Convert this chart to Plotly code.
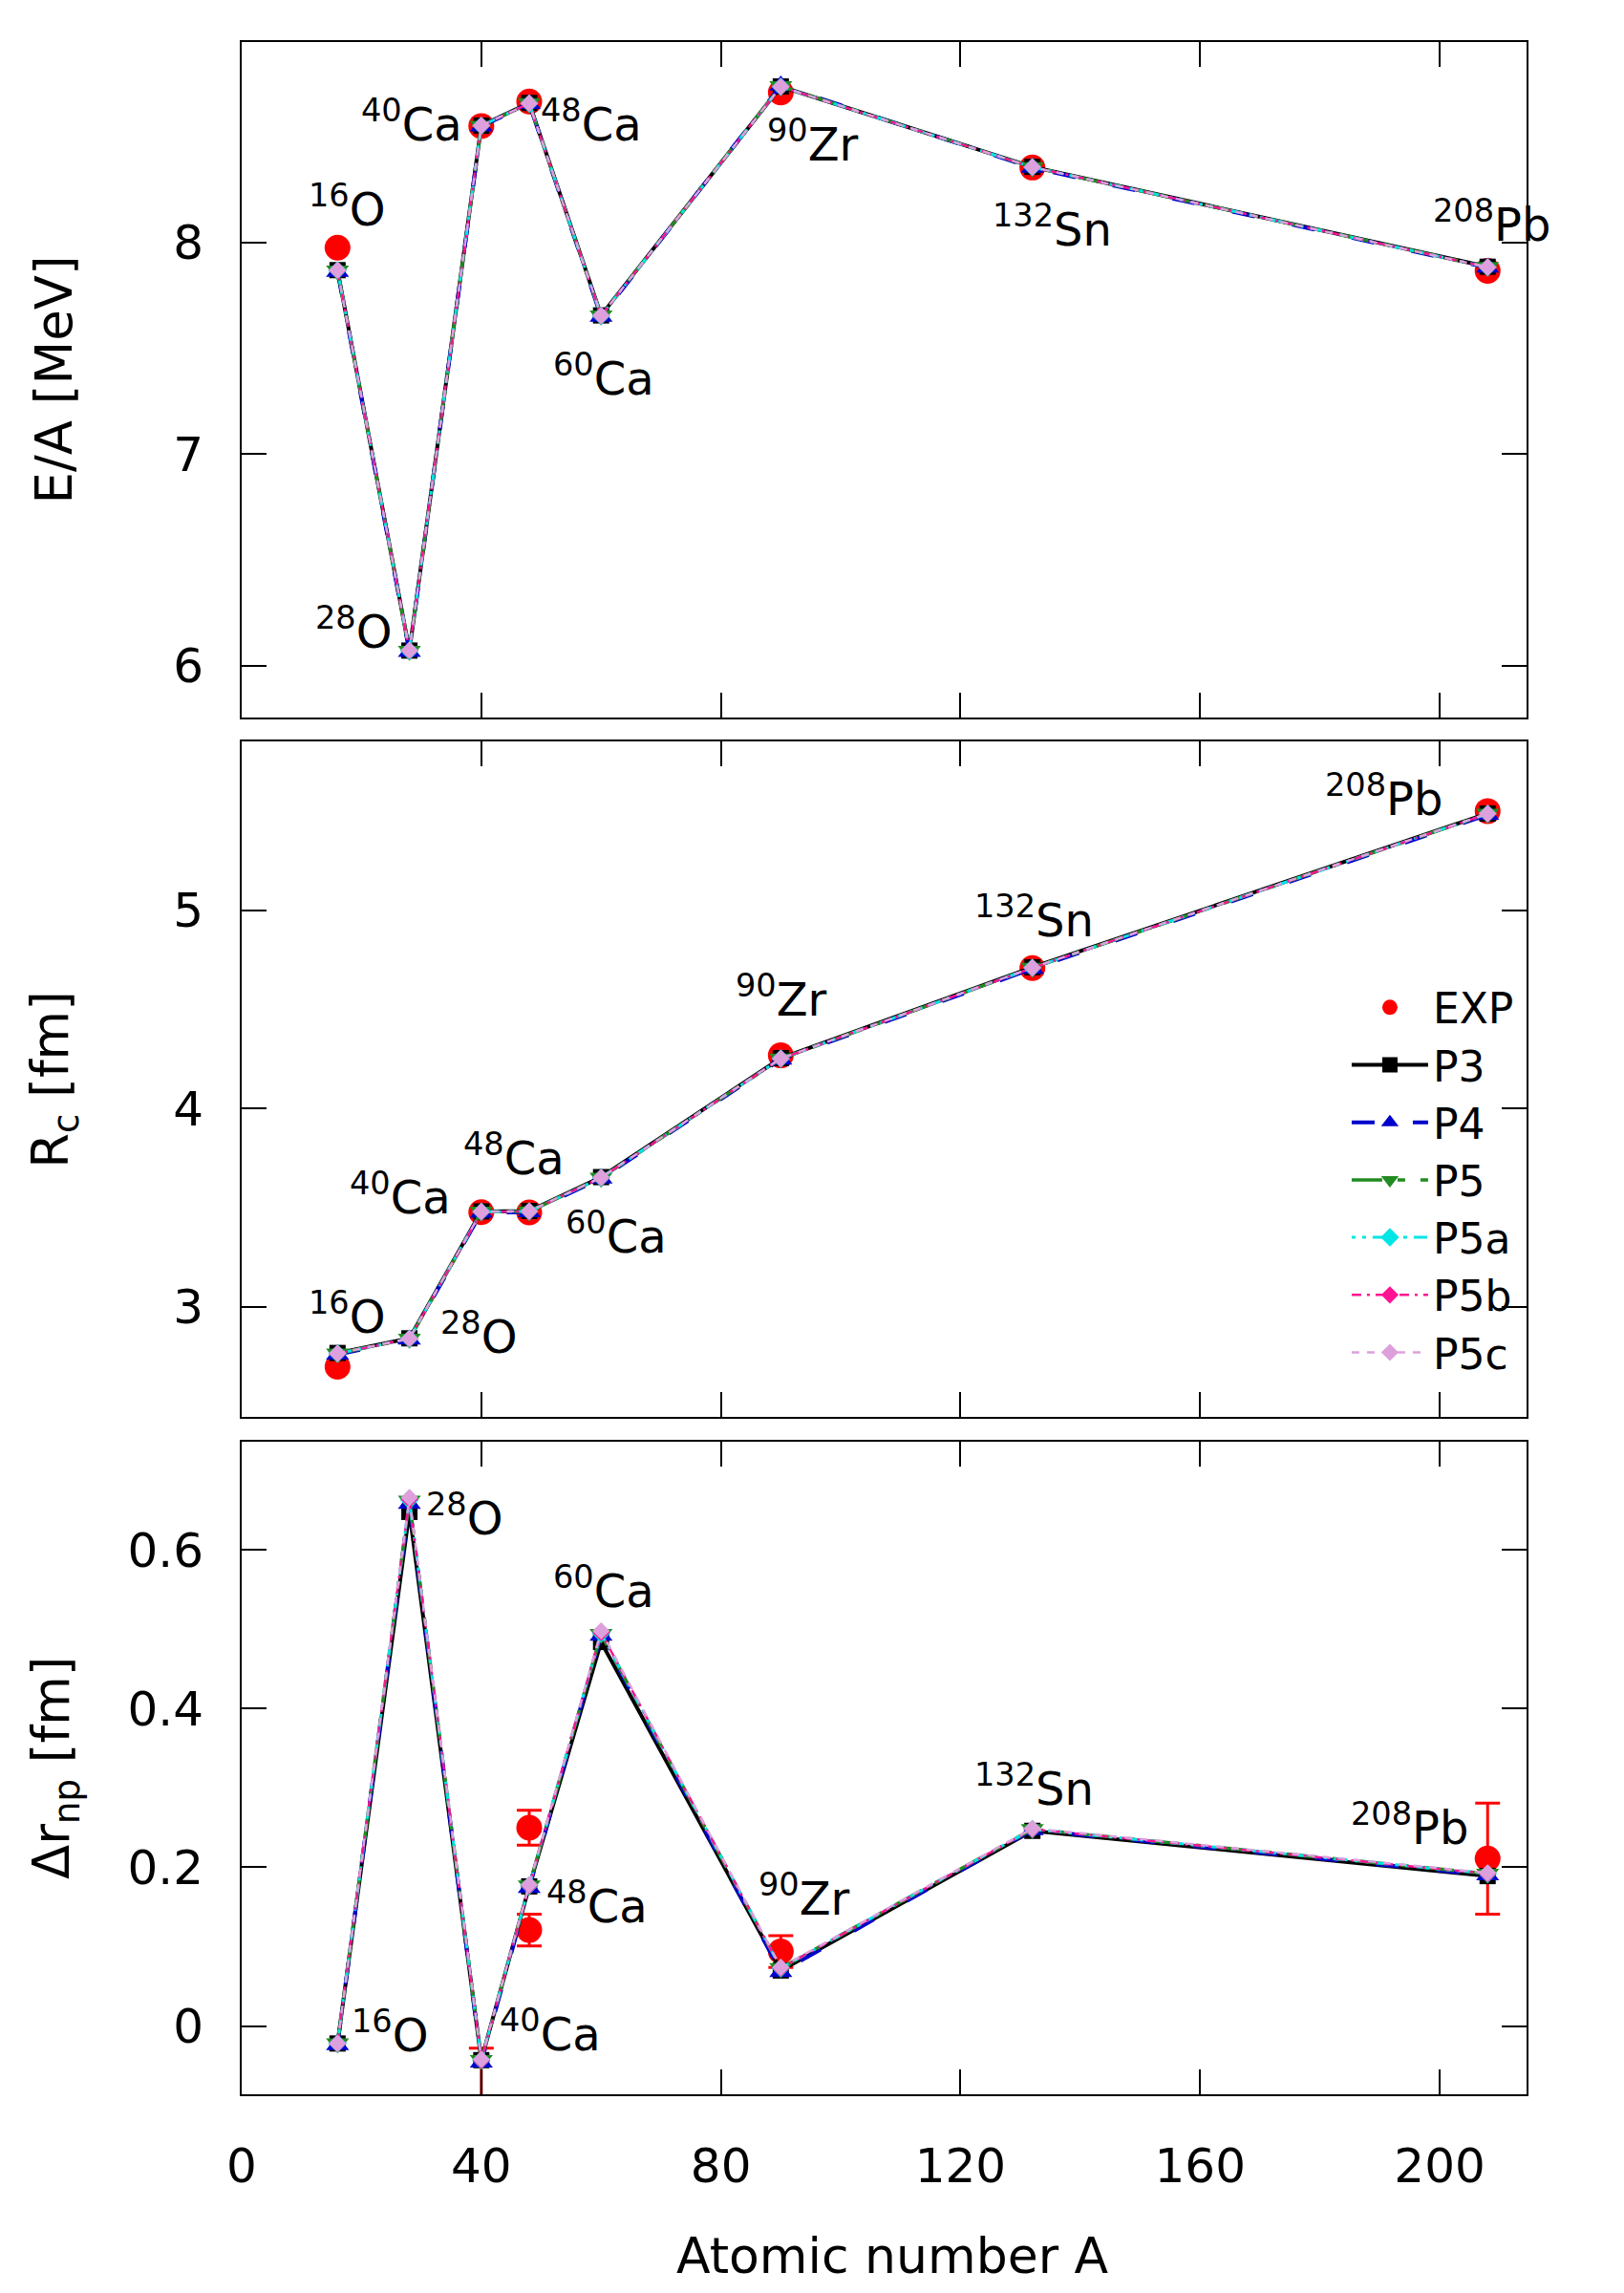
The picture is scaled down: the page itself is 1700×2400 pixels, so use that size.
import plotly.graph_objects as go

# mass numbers of the nuclei
A_model = [16, 28, 40, 48, 60, 90, 132, 208]
A_exp = [16, 40, 48, 90, 132, 208]
A_exp_np = [40, 48, 48, 90, 208]

# experimental data
ea_exp = [7.976, 8.551, 8.667, 8.710, 8.355, 7.867]
rc_exp = [2.699, 3.478, 3.477, 4.269, 4.709, 5.501]
np_exp = [-0.12, 0.250, 0.121, 0.094, 0.211]
np_err = [0.092, 0.022, 0.020, 0.020, 0.070]

# binding energy per nucleon [MeV]
ea_p3 = [7.870, 6.072, 8.553, 8.660, 7.656, 8.738, 8.358, 7.886]
ea_p4 = [7.862, 6.066, 8.549, 8.656, 7.650, 8.742, 8.354, 7.882]
ea_p5 = [7.868, 6.070, 8.552, 8.659, 7.655, 8.739, 8.357, 7.885]
ea_p5a = [7.869, 6.071, 8.553, 8.658, 7.654, 8.737, 8.357, 7.884]
ea_p5b = [7.869, 6.072, 8.553, 8.658, 7.655, 8.737, 8.357, 7.884]
ea_p5c = [7.870, 6.073, 8.553, 8.658, 7.655, 8.737, 8.357, 7.884]

# charge radius [fm]
rc_p3 = [2.768, 2.842, 3.482, 3.484, 3.655, 4.255, 4.713, 5.489]
rc_p4 = [2.760, 2.836, 3.476, 3.478, 3.648, 4.248, 4.706, 5.482]
rc_p5 = [2.765, 2.840, 3.480, 3.482, 3.652, 4.252, 4.710, 5.487]
rc_p5a = [2.765, 2.840, 3.480, 3.482, 3.652, 4.252, 4.710, 5.487]
rc_p5b = [2.765, 2.840, 3.480, 3.482, 3.652, 4.252, 4.710, 5.487]
rc_p5c = [2.766, 2.841, 3.481, 3.483, 3.653, 4.253, 4.711, 5.488]

# neutron skin [fm]
np_p3 = [-0.022, 0.648, -0.043, 0.176, 0.484, 0.070, 0.246, 0.189]
np_p4 = [-0.024, 0.658, -0.046, 0.174, 0.492, 0.068, 0.247, 0.190]
np_p5 = [-0.022, 0.662, -0.043, 0.177, 0.494, 0.073, 0.248, 0.192]
np_p5a = [-0.022, 0.663, -0.043, 0.177, 0.495, 0.073, 0.248, 0.192]
np_p5b = [-0.022, 0.664, -0.043, 0.177, 0.496, 0.073, 0.248, 0.192]
np_p5c = [-0.022, 0.666, -0.042, 0.178, 0.498, 0.074, 0.249, 0.193]

nuclei = ["16", "O", "28", "O", "40", "Ca", "48", "Ca", "60", "Ca", "90", "Zr", "132", "Sn", "208", "Pb"]
nucleus_labels = [f"<sup>{nuclei[i]}</sup>{nuclei[i + 1]}" for i in range(0, len(nuclei), 2)]

model_data = {
    "P3": (ea_p3, rc_p3, np_p3),
    "P4": (ea_p4, rc_p4, np_p4),
    "P5": (ea_p5, rc_p5, np_p5),
    "P5a": (ea_p5a, rc_p5a, np_p5a),
    "P5b": (ea_p5b, rc_p5b, np_p5b),
    "P5c": (ea_p5c, rc_p5c, np_p5c),
}

# name: (colour, dash, line width, symbol, marker size)
styles = {
    "P3": ("black", "solid", 4, "square", 17),
    "P4": ("#0000cc", "24px,40px", 4, "triangle-up", 21),
    "P5": ("#228b22", "32px,16px,8px,16px", 3.5, "triangle-down", 21),
    "P5a": ("#00e5e5", "4px,7px,4px,7px,14px,7px", 3, "diamond", 15),
    "P5b": ("#ff1493", "10px,6px,3px,6px", 2.5, "diamond", 14),
    "P5c": ("#dda0dd", "8px,8px", 2.5, "diamond", 14),
}

FONT = "DejaVu Sans"
fig = go.Figure()

panels = [("x", "y", 0), ("x2", "y2", 1), ("x3", "y3", 2)]
exp_sets = [(A_exp, ea_exp, None), (A_exp, rc_exp, None), (A_exp_np, np_exp, np_err)]

for xa, ya, k in panels:
    ex, ey, err = exp_sets[k]
    fig.add_trace(go.Scatter(
        x=ex, y=ey, mode="markers", name="EXP",
        marker=dict(symbol="circle", color="red", size=27),
        error_y=dict(type="data", array=err, color="red", thickness=3, width=13) if err else None,
        xaxis=xa, yaxis=ya, showlegend=(k == 1),
    ))
    for name, series in model_data.items():
        color, dash, lw, symbol, msize = styles[name]
        fig.add_trace(go.Scatter(
            x=A_model, y=series[k], mode="lines+markers", name=name,
            line=dict(color=color, dash=dash, width=lw),
            marker=dict(symbol=symbol, color=color, size=msize),
            xaxis=xa, yaxis=ya, showlegend=(k == 1),
        ))

# label placement (A, value) per panel
label_pos = [
    [(17.7, 8.173), (18.7, 6.176), (28.4, 8.571), (58.3, 8.571), (60.4, 7.373), (95.4, 8.478), (135.3, 8.077), (208.8, 8.099)],
    [(17.7, 2.968), (39.6, 2.867), (26.5, 3.567), (45.4, 3.766), (62.5, 3.369), (90.1, 4.564), (132.3, 4.966), (190.8, 5.576)],
    [(24.8, -0.008), (37.2, 0.644), (51.5, -0.006), (59.4, 0.1545), (60.4, 0.5516), (94.0, 0.165), (132.3, 0.303), (195.0, 0.254)],
]
annotations = []
for xa, ya, k in panels:
    for text, (ax, ay) in zip(nucleus_labels, label_pos[k]):
        annotations.append(dict(
            x=ax, y=ay, xref=xa, yref=ya, text=text, showarrow=False,
            xanchor="center", yanchor="middle", font=dict(family=FONT, size=48, color="black"),
        ))

# axis titles
for text, yc in [("E/A [MeV]", 0.8354), ("R<sub>c</sub> [fm]", 0.4945), ("Δr<sub>np</sub> [fm]", 0.1592)]:
    annotations.append(dict(
        x=-0.1457, y=yc, xref="paper", yref="paper", text=text, showarrow=False,
        textangle=-90, xanchor="center", yanchor="middle",
        font=dict(family=FONT, size=53, color="black"),
    ))
annotations.append(dict(
    x=0.507, y=-0.0787, xref="paper", yref="paper", text="Atomic number A", showarrow=False,
    xanchor="center", yanchor="middle", font=dict(family=FONT, size=52, color="black"),
))

axis_common = dict(
    showline=True, linecolor="black", linewidth=2, mirror="ticks",
    ticks="inside", ticklen=26, tickwidth=2, tickcolor="black",
    showgrid=False, zeroline=False,
    tickfont=dict(family=FONT, size=50, color="black"),
)
x_ticks = [0, 40, 80, 120, 160, 200]

fig.update_layout(
    width=1700, height=2400,
    # the page body adds 8 px on the left and top
    margin=dict(l=245, r=110, t=36, b=216),
    plot_bgcolor="white", paper_bgcolor="white",
    font=dict(family=FONT, color="black"),
    showlegend=True,
    legend=dict(
        x=0.994, y=0.546, xanchor="right", yanchor="top",
        font=dict(family=FONT, size=44, color="black"),
        bgcolor="rgba(0,0,0,0)", itemwidth=80,
    ),
    annotations=annotations,
    xaxis=dict(axis_common, domain=[0, 1], anchor="y", range=[0, 214.5], tickvals=x_ticks,
               showticklabels=False, matches="x3"),
    xaxis2=dict(axis_common, domain=[0, 1], anchor="y2", range=[0, 214.5], tickvals=x_ticks,
                showticklabels=False, matches="x3"),
    xaxis3=dict(axis_common, domain=[0, 1], anchor="y3", range=[0, 214.5], tickvals=x_ticks,
                ticklabelstandoff=30),
    yaxis=dict(axis_common, domain=[0.6709, 1], anchor="x", range=[5.756, 8.948],
               tickvals=[6, 7, 8], ticklabelstandoff=28),
    yaxis2=dict(axis_common, domain=[0.3301, 0.659], anchor="x2", range=[2.446, 5.85],
                tickvals=[3, 4, 5], ticklabelstandoff=28),
    yaxis3=dict(axis_common, domain=[0, 0.3182], anchor="x3", range=[-0.086, 0.737],
                tickvals=[0, 0.2, 0.4, 0.6], ticktext=["0", "0.2", "0.4", "0.6"], ticklabelstandoff=28),
)

fig.write_html("out.html")
